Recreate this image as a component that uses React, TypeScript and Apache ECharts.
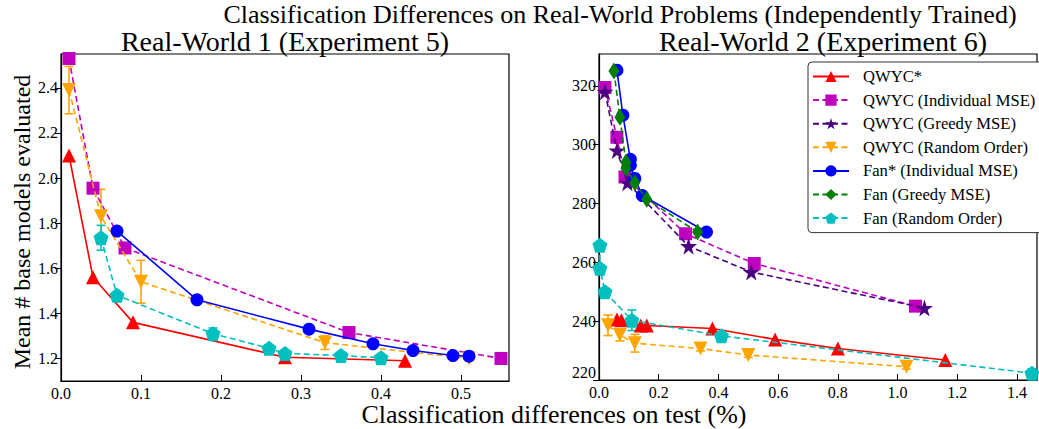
import React, { useEffect, useRef } from "react";
import * as echarts from "echarts";

// ---------- Real-World 1 (Experiment 5) ----------
const L_QWYC_STAR_X = [0.01, 0.04, 0.09, 0.28, 0.43];
const L_QWYC_STAR_Y = [2.1, 1.56, 1.36, 1.205, 1.19];

const L_QWYC_IND_X = [0.01, 0.04, 0.08, 0.36, 0.55];
const L_QWYC_IND_Y = [2.53, 1.955, 1.69, 1.315, 1.2];

const L_QWYC_RAND_X = [0.01, 0.05, 0.1, 0.33, 0.51];
const L_QWYC_RAND_Y = [2.39, 1.83, 1.54, 1.27, 1.2];
const L_QWYC_RAND_E = [0.105, 0.12, 0.095, 0.03, 0.01];

const L_FAN_IND_X = [0.07, 0.17, 0.31, 0.39, 0.44, 0.49, 0.51];
const L_FAN_IND_Y = [1.765, 1.46, 1.33, 1.265, 1.235, 1.213, 1.21];

const L_FAN_RAND_X = [0.05, 0.07, 0.19, 0.26, 0.28, 0.35, 0.4];
const L_FAN_RAND_Y = [1.735, 1.48, 1.31, 1.245, 1.222, 1.213, 1.203];
const L_FAN_RAND_E = [0.055, 0.01, 0.025, 0.01, 0.01, 0.01, 0.01];

// ---------- Real-World 2 (Experiment 6) ----------
const R_QWYC_STAR_X = [0.06, 0.075, 0.14, 0.16, 0.38, 0.59, 0.8, 1.16];
const R_QWYC_STAR_Y = [240.6, 240.3, 238.5, 238.5, 237.5, 233.8, 230.7, 226.8];

const R_QWYC_IND_X = [0.02, 0.06, 0.087, 0.29, 0.52, 1.06];
const R_QWYC_IND_Y = [319.4, 302.5, 289, 269.7, 259.6, 245.1];

const R_QWYC_GREEDY_X = [0.02, 0.06, 0.095, 0.3, 0.51, 1.09];
const R_QWYC_GREEDY_Y = [318, 298, 287, 265.5, 256.7, 244.5];

const R_QWYC_RAND_X = [0.03, 0.07, 0.12, 0.34, 0.5, 1.03];
const R_QWYC_RAND_Y = [238.6, 235.3, 232.5, 230.7, 228.5, 224.5];
const R_QWYC_RAND_E = [3.5, 2, 3, 0.8, 0.8, 0.8];

const R_FAN_IND_X = [0.06, 0.08, 0.105, 0.105, 0.12, 0.145, 0.36];
const R_FAN_IND_Y = [325.3, 310, 295, 293, 288.5, 282.7, 270.3];

const R_FAN_GREEDY_X = [0.05, 0.07, 0.09, 0.09, 0.12, 0.16, 0.33];
const R_FAN_GREEDY_Y = [325, 309.3, 294, 292, 287, 281.4, 270.3];

const R_FAN_RAND_X = [0.003, 0.003, 0.02, 0.11, 0.41, 1.45];
const R_FAN_RAND_Y = [265.8, 258, 250, 240.3, 235, 222.3];
const R_FAN_RAND_E = [1, 1, 1, 3.5, 1, 1.5];

// ---------- labels ----------
const SUPTITLE = "Classification Differences on Real-World Problems (Independently Trained)";
const TITLE_1 = "Real-World 1 (Experiment 5)";
const TITLE_2 = "Real-World 2 (Experiment 6)";
const X_NAME = "Classification differences on test (%)";
const Y_NAME = "Mean # base models evaluated";
const NAMES = [
  "QWYC*",
  "QWYC (Individual MSE)",
  "QWYC (Greedy MSE)",
  "QWYC (Random Order)",
  "Fan* (Individual MSE)",
  "Fan (Greedy MSE)",
  "Fan (Random Order)",
];

const FONT = "'Liberation Serif', 'DejaVu Serif', serif";

const STAR = "path://M50,0 L61.2,34.5 L97.6,34.5 L68.2,55.9 L79.4,90.5 L50,69.1 L20.6,90.5 L31.8,55.9 L2.4,34.5 L38.8,34.5 Z";
const PENT = "path://M50,0 L97.6,34.5 L79.4,90.5 L20.6,90.5 L2.4,34.5 Z";
const DOWN = "path://M0,0 L100,0 L50,86.6 Z";

const STYLES: Record<string, any> = {
  "QWYC*": { color: "#ff0000", symbol: "triangle", size: 14, dash: "solid" },
  "QWYC (Individual MSE)": { color: "#bf00bf", symbol: "rect", size: 13, dash: [6, 3.5] },
  "QWYC (Greedy MSE)": { color: "#4b0082", symbol: STAR, size: 17, dash: [6, 3.5] },
  "QWYC (Random Order)": { color: "#ffa500", symbol: DOWN, size: 14, dash: [6, 3.5] },
  "Fan* (Individual MSE)": { color: "#0000ff", symbol: "circle", size: 13, dash: "solid" },
  "Fan (Greedy MSE)": { color: "#008000", symbol: "diamond", size: [11, 17], dash: [6, 3.5] },
  "Fan (Random Order)": { color: "#00bfbf", symbol: PENT, size: 15, dash: [6, 3.5] },
};

function lineSeries(name: string, xs: number[], ys: number[], idx: number, z: number) {
  const s = STYLES[name];
  return {
    type: "line",
    name,
    xAxisIndex: idx,
    yAxisIndex: idx,
    data: xs.map((x, i) => [x, ys[i]]),
    symbol: s.symbol,
    symbolSize: s.size,
    showAllSymbol: true,
    lineStyle: { color: s.color, width: 1.6, type: s.dash },
    itemStyle: { color: s.color },
    z,
    clip: true,
  };
}

function errSeries(name: string, xs: number[], ys: number[], es: number[], idx: number) {
  const color = STYLES[name].color;
  return {
    type: "custom",
    name: "err " + name + " " + idx,
    xAxisIndex: idx,
    yAxisIndex: idx,
    data: xs.map((x, i) => [x, ys[i], es[i]]),
    encode: { x: 0, y: 1 },
    silent: true,
    z: 2,
    renderItem: (params: any, api: any) => {
      const x = api.value(0);
      const y = api.value(1);
      const e = api.value(2);
      const top = api.coord([x, y + e]);
      const bot = api.coord([x, y - e]);
      const cap = 4.5;
      const st = { stroke: color, lineWidth: 1.6 };
      return {
        type: "group",
        children: [
          { type: "line", shape: { x1: top[0], y1: top[1], x2: bot[0], y2: bot[1] }, style: st },
          { type: "line", shape: { x1: top[0] - cap, y1: top[1], x2: top[0] + cap, y2: top[1] }, style: st },
          { type: "line", shape: { x1: bot[0] - cap, y1: bot[1], x2: bot[0] + cap, y2: bot[1] }, style: st },
        ],
      };
    },
  };
}

const axisLabelStyle = { color: "#000", fontFamily: FONT, fontSize: 16 };

function txt(text: string, x: number, y: number, size: number, rotation = 0) {
  return {
    type: "text",
    x,
    y,
    rotation,
    style: {
      text,
      fill: "#000",
      font: `${size}px ${FONT}`,
      align: "center",
      verticalAlign: "middle",
      textAlign: "center",
      textVerticalAlign: "middle",
    },
  };
}

export default function App() {
  const ref = useRef<HTMLDivElement>(null);
  useEffect(() => {
    const chart = echarts.init(ref.current!, null, { renderer: "svg" });
    const option: any = {
      animation: false,
      backgroundColor: "#fff",
      grid: [
        { left: 61, top: 54, width: 448, height: 327, show: true, borderColor: "#000", borderWidth: 1.2, backgroundColor: "transparent" },
        { left: 599, top: 54, width: 438, height: 326, show: true, borderColor: "#000", borderWidth: 1.2, backgroundColor: "transparent" },
      ],
      xAxis: [
        {
          type: "value", gridIndex: 0, min: 0, max: 0.56, interval: 0.1,
          splitLine: { show: false },
          axisLine: { show: true, onZero: false, lineStyle: { color: "#000", width: 1.2 } },
          axisTick: { show: true, inside: true, length: 6, lineStyle: { color: "#000" } },
          axisLabel: { ...axisLabelStyle, margin: 4, showMaxLabel: false, formatter: (v: number) => v.toFixed(1) },
        },
        {
          type: "value", gridIndex: 1, min: 0, max: 1.467, interval: 0.2,
          splitLine: { show: false },
          axisLine: { show: true, onZero: false, lineStyle: { color: "#000", width: 1.2 } },
          axisTick: { show: true, inside: true, length: 6, lineStyle: { color: "#000" } },
          axisLabel: { ...axisLabelStyle, margin: 4, showMaxLabel: false, formatter: (v: number) => v.toFixed(1) },
        },
      ],
      yAxis: [
        {
          type: "value", gridIndex: 0, min: 1.1, max: 2.55, splitNumber: 7,
          splitLine: { show: false },
          axisLine: { show: true, onZero: false, lineStyle: { color: "#000", width: 1.2 } },
          axisTick: { show: true, length: 6, lineStyle: { color: "#000" } },
          axisLabel: { ...axisLabelStyle, margin: 3, showMinLabel: false, showMaxLabel: false, formatter: (v: number) => v.toFixed(1) },
        },
        {
          type: "value", gridIndex: 1, min: 220, max: 330.8, interval: 20,
          splitLine: { show: false },
          axisLine: { show: true, onZero: false, lineStyle: { color: "#000", width: 1.2 } },
          axisTick: { show: true, length: 6, lineStyle: { color: "#000" } },
          axisLabel: {
            ...axisLabelStyle, margin: 3, showMaxLabel: false,
            verticalAlignMinLabel: "bottom",
            formatter: (v: number) => String(Math.round(v)),
          },
        },
      ],
      legend: {
        orient: "vertical",
        left: 808,
        top: 62,
        padding: [6, 8, 6, 4],
        itemGap: 6.6,
        itemWidth: 36,
        itemHeight: 14,
        borderColor: "#333",
        borderWidth: 1,
        borderRadius: 4,
        backgroundColor: "#fff",
        textStyle: { color: "#000", fontFamily: FONT, fontSize: 16.6, padding: [0, 0, 0, 9] },
        data: NAMES,
        z: 20,
      },
      graphic: [
        txt(SUPTITLE, 620, 14, 26),
        txt(TITLE_1, 285, 41, 28),
        txt(TITLE_2, 823, 41, 28),
        txt(X_NAME, 554, 414, 26),
        txt(Y_NAME, 22, 222, 24, Math.PI / 2),
      ],
      series: [
        errSeries("QWYC (Random Order)", L_QWYC_RAND_X, L_QWYC_RAND_Y, L_QWYC_RAND_E, 0),
        errSeries("Fan (Random Order)", L_FAN_RAND_X, L_FAN_RAND_Y, L_FAN_RAND_E, 0),
        errSeries("QWYC (Random Order)", R_QWYC_RAND_X, R_QWYC_RAND_Y, R_QWYC_RAND_E, 1),
        errSeries("Fan (Random Order)", R_FAN_RAND_X, R_FAN_RAND_Y, R_FAN_RAND_E, 1),
        // right plot (legend icons come from these first)
        lineSeries("QWYC*", R_QWYC_STAR_X, R_QWYC_STAR_Y, 1, 3),
        lineSeries("QWYC (Individual MSE)", R_QWYC_IND_X, R_QWYC_IND_Y, 1, 4),
        lineSeries("QWYC (Greedy MSE)", R_QWYC_GREEDY_X, R_QWYC_GREEDY_Y, 1, 5),
        lineSeries("QWYC (Random Order)", R_QWYC_RAND_X, R_QWYC_RAND_Y, 1, 6),
        lineSeries("Fan* (Individual MSE)", R_FAN_IND_X, R_FAN_IND_Y, 1, 7),
        lineSeries("Fan (Greedy MSE)", R_FAN_GREEDY_X, R_FAN_GREEDY_Y, 1, 8),
        lineSeries("Fan (Random Order)", R_FAN_RAND_X, R_FAN_RAND_Y, 1, 9),
        // left plot
        lineSeries("QWYC*", L_QWYC_STAR_X, L_QWYC_STAR_Y, 0, 3),
        lineSeries("QWYC (Individual MSE)", L_QWYC_IND_X, L_QWYC_IND_Y, 0, 4),
        lineSeries("QWYC (Random Order)", L_QWYC_RAND_X, L_QWYC_RAND_Y, 0, 6),
        lineSeries("Fan* (Individual MSE)", L_FAN_IND_X, L_FAN_IND_Y, 0, 7),
        lineSeries("Fan (Random Order)", L_FAN_RAND_X, L_FAN_RAND_Y, 0, 9),
      ],
    };
    chart.setOption(option);
    return () => chart.dispose();
  }, []);
  return (
    <div
      ref={ref}
      style={{ position: "absolute", left: 0, top: 0, width: 1039, height: 429, background: "#fff" }}
    />
  );
}
